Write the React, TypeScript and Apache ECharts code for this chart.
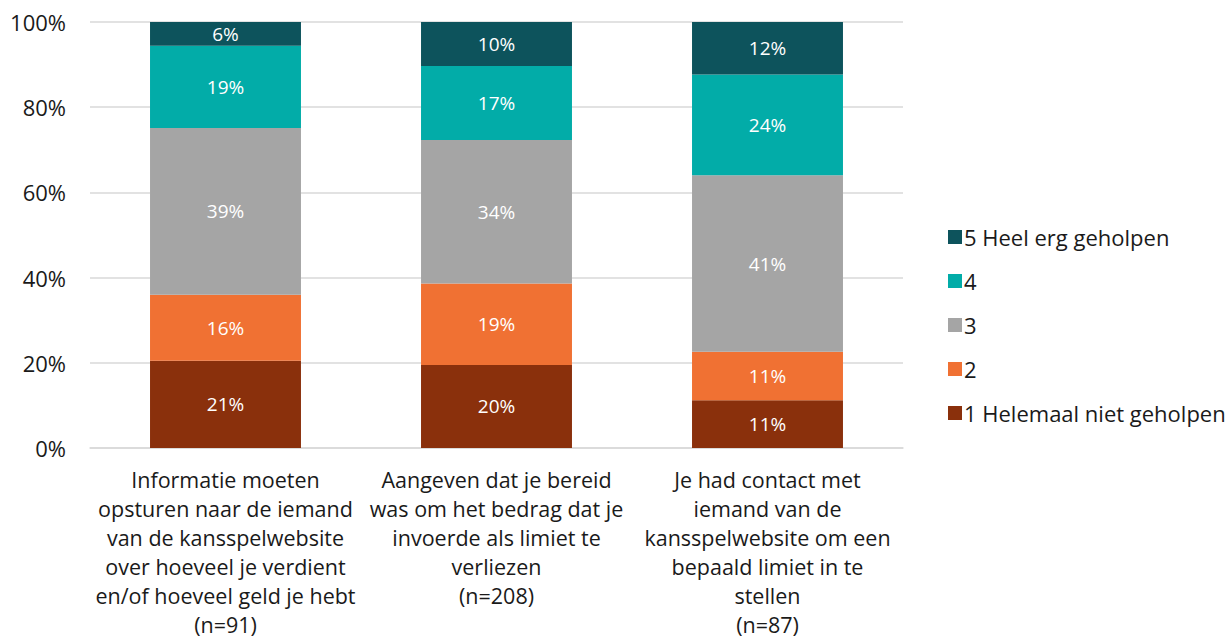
import React, { useEffect, useRef } from "react";
import * as echarts from "echarts";

const categories = [
  "Informatie moeten\nopsturen naar de iemand\nvan de kansspelwebsite\nover hoeveel je verdient\nen/of hoeveel geld je hebt\n(n=91)",
  "Aangeven dat je bereid\nwas om het bedrag dat je\ninvoerde als limiet te\nverliezen\n(n=208)",
  "Je had contact met\niemand van de\nkansspelwebsite om een\nbepaald limiet in te\nstellen\n(n=87)",
];
const seriesNames = ["1 Helemaal niet geholpen", "2", "3", "4", "5 Heel erg geholpen"];
const s1 = [20.5, 19.5, 11.2];
const s2 = [15.5, 19.1, 11.4];
const s3 = [39.1, 33.7, 41.4];
const s4 = [19.3, 17.4, 23.7];
const s5 = [5.6, 10.3, 12.3];
const colors = ["#8A300C", "#F07133", "#A5A5A5", "#02ACA8", "#0D535C"];
const yTicks = [0, 20, 40, 60, 80, 100];

const FONT = "'Open Sans', 'Noto Sans', sans-serif";

export default function App() {
  const ref = useRef<HTMLDivElement>(null);
  useEffect(() => {
    if (!ref.current) return;
    const chart = echarts.init(ref.current, undefined, { renderer: "svg" });
    const data = [s1, s2, s3, s4, s5];
    chart.setOption({
      animation: false,
      textStyle: { fontFamily: FONT },
      grid: { left: 90, right: 327, top: 22, bottom: 187, containLabel: false },
      legend: {
        orient: "vertical",
        left: 943,
        top: 221,
        itemGap: 22,
        itemWidth: 14,
        itemHeight: 14,
        icon: "rect",
        data: [...seriesNames].reverse(),
        textStyle: { fontSize: 22, color: "#1a1a1a", fontFamily: FONT, padding: [0, 0, 0, -3] },
      },
      xAxis: {
        type: "category",
        data: categories,
        axisLine: { show: true, lineStyle: { color: "#d9d9d9", width: 1.5 } },
        axisTick: { show: false },
        axisLabel: {
          fontSize: 21.5,
          color: "#1a1a1a",
          lineHeight: 29,
          margin: 17,
          interval: 0,
          fontFamily: FONT,
        },
      },
      yAxis: {
        type: "value",
        min: 0,
        max: 100,
        interval: 20,
        axisLabel: {
          formatter: (v: number) => (yTicks.includes(v) ? v + "%" : ""),
          fontSize: 22,
          color: "#1a1a1a",
          margin: 24,
          fontFamily: FONT,
        },
        splitLine: { lineStyle: { color: "#d9d9d9", width: 1.5 } },
        axisLine: { show: false },
        axisTick: { show: false },
      },
      series: seriesNames.map((name, i) => ({
        name,
        type: "bar",
        stack: "total",
        barWidth: "55.7%",
        data: data[i],
        itemStyle: { color: colors[i] },
        label: {
          show: true,
          position: "inside",
          color: "#ffffff",
          fontSize: 19,
          fontFamily: FONT,
          formatter: (p: any) => Math.round(p.value) + "%",
        },
      })),
    });
    return () => chart.dispose();
  }, []);
  return (
    <div
      ref={ref}
      style={{ position: "fixed", left: 0, top: 0, width: 1230, height: 639, background: "#fff" }}
    />
  );
}
